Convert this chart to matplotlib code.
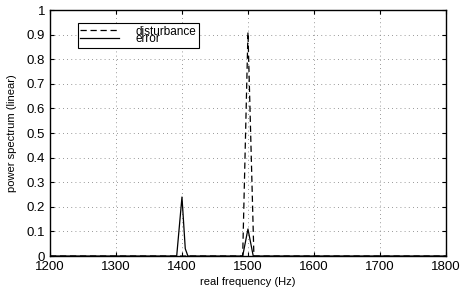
import matplotlib
matplotlib.use('Agg')
import matplotlib.pyplot as plt

plt.rcParams['font.family'] = ['Liberation Sans', 'DejaVu Sans']

# dados
freq_dist = [1200, 1492, 1500, 1509, 1800]
pot_dist = [0, 0, 0.91, 0, 0]

freq_erro = [1200, 1392, 1400, 1405, 1409, 1492, 1500, 1508, 1800]
pot_erro = [0, 0, 0.24, 0.03, 0, 0, 0.11, 0, 0]

xticks = [1200, 1300, 1400, 1500, 1600, 1700, 1800]
yticks = [0, 0.1, 0.2, 0.3, 0.4, 0.5, 0.6, 0.7, 0.8, 0.9, 1]

fig = plt.figure(figsize=(4.65, 2.89), dpi=100)
ax = fig.add_axes([0.1075, 0.114, 0.8515, 0.851])

ax.plot(freq_dist, pot_dist, 'k--', lw=0.9, dashes=(5, 3), label='disturbance')
ax.plot(freq_erro, pot_erro, 'k-', lw=0.9, label='error')

ax.set_xlim(1200, 1800)
ax.set_ylim(0, 1)
ax.set_xticks(xticks)
ax.set_yticks(yticks)
ax.set_yticklabels(['0', '0.1', '0.2', '0.3', '0.4', '0.5', '0.6', '0.7', '0.8', '0.9', '1'])
ax.tick_params(direction='in', top=True, right=True, labelsize=9.5, length=3, width=0.8)
ax.grid(True, linestyle=(0, (1, 4)), color='#777777', lw=0.6)
for s in ax.spines.values():
    s.set_linewidth(1.0)

ax.set_xlabel('real frequency (Hz)', fontsize=8, labelpad=3)
ax.set_ylabel('power spectrum (linear)', fontsize=8, labelpad=7)

leg = ax.legend(loc='upper left', bbox_to_anchor=(0.07, 0.947), fontsize=8.5,
                labelspacing=-0.35, handlelength=3.3, handletextpad=1.4,
                borderpad=0.2, borderaxespad=0, fancybox=False, framealpha=1,
                edgecolor='k')
leg.get_frame().set_linewidth(0.8)

fig.savefig('out.png', dpi=100)
